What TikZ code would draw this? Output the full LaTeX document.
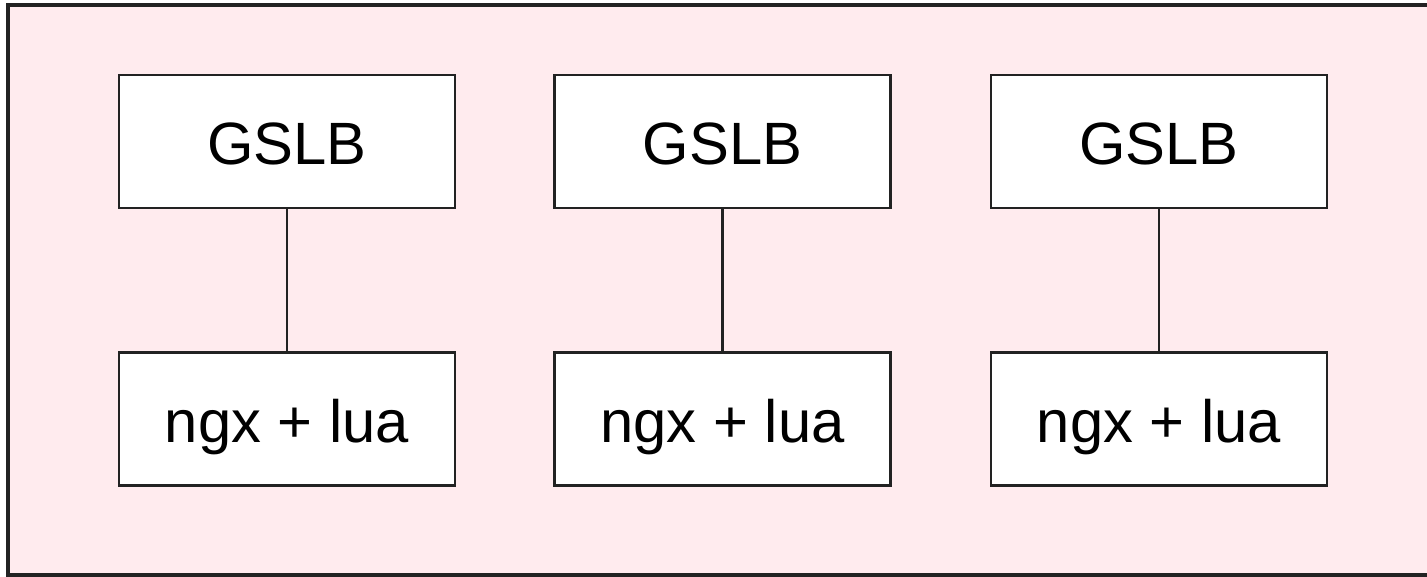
\documentclass[tikz,border=0pt]{standalone}
\usepackage{fontspec}
\setmainfont{Liberation Sans}
\usepackage{tikz}
\definecolor{panelpink}{RGB}{255, 235, 238}
\definecolor{edgegray}{RGB}{34, 34, 34}

\begin{document}
\begin{tikzpicture}[x=0.02cm, y=-0.02cm,
    unitbox/.style={draw=edgegray, fill=white, line width=1.6pt, minimum width=6.72cm, minimum height=2.66cm, inner sep=0pt, text height=26.5pt, text depth=0pt, font=\fontsize{34}{40}\selectfont},
    link/.style={draw=edgegray, line width=1.6pt}]
    \clip (0,0) rectangle (1427,577);
    % outer panel
    \draw[fill=panelpink, draw=edgegray, line width=2pt] (8,5) rectangle (1450,575);

    % top row
    \node[unitbox] (gslbA) at (287,141.5) {GSLB};
    \node[unitbox] (gslbB) at (722.5,141.5) {GSLB};
    \node[unitbox] (gslbC) at (1159,141.5) {GSLB};

    % bottom row
    \node[unitbox] (ngxA) at (287,419) {ngx + lua};
    \node[unitbox] (ngxB) at (722.5,419) {ngx + lua};
    \node[unitbox] (ngxC) at (1159,419) {ngx + lua};

    \draw[link] (gslbA) -- (ngxA);
    \draw[link] (gslbB) -- (ngxB);
    \draw[link] (gslbC) -- (ngxC);
\end{tikzpicture}
\end{document}
